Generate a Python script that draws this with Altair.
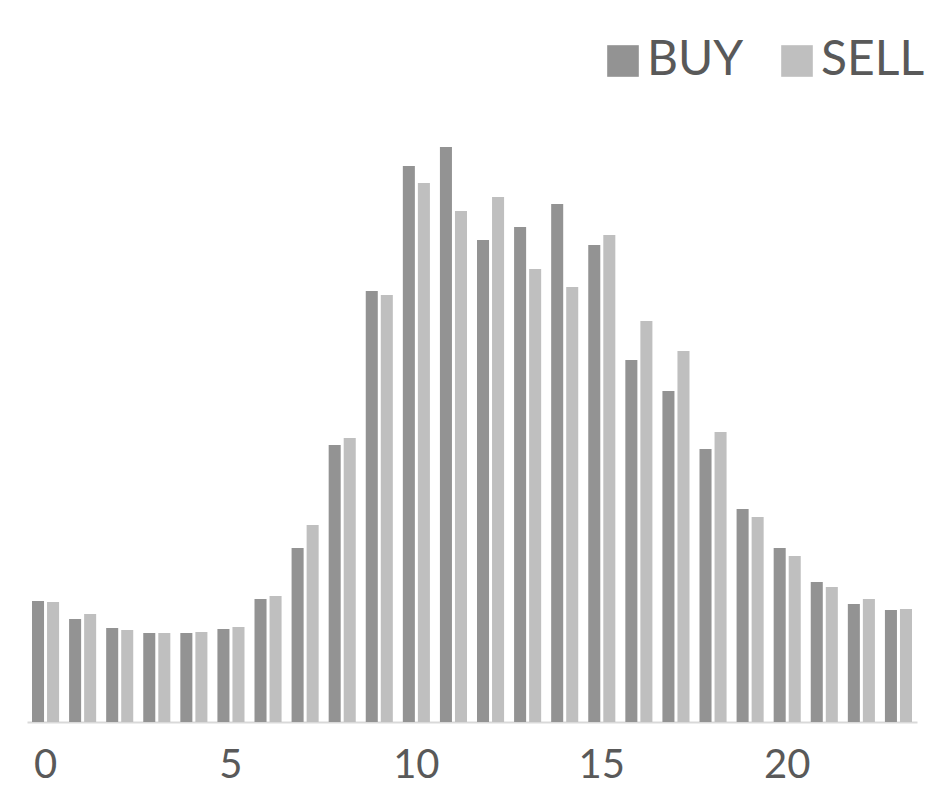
import altair as alt
import pandas as pd

hours = list(range(24))
buy = [121, 103, 94, 89, 89, 93, 123, 174, 277, 431, 556, 575, 482, 495, 518, 477, 362, 331, 273, 213, 174, 140, 118, 112]
sell = [120, 108, 92, 89, 90, 95, 126, 197, 284, 427, 539, 511, 525, 453, 435, 487, 401, 371, 290, 205, 166, 135, 123, 113]
series = ["BUY", "SELL"]
colors = ["#939393", "#bfbfbf"]
tick_labels = [0, 5, 10, 15, 20]

rows = []
for h, b, s in zip(hours, buy, sell):
    rows.append({"hour": h, "side": "BUY", "value": b})
    rows.append({"hour": h, "side": "SELL", "value": s})
df = pd.DataFrame(rows)

FONT = "Lato"

chart = alt.Chart(df).mark_bar().encode(
    x=alt.X("hour:O", sort=hours,
            scale=alt.Scale(paddingInner=0.27, paddingOuter=0.135),
            axis=alt.Axis(values=tick_labels, title=None, labelAngle=0, ticks=False,
                          domainColor="#d9d9d9", domainWidth=2, labelColor="#595959",
                          labelFont=FONT, labelFontSize=40, labelPadding=23, grid=False)),
    xOffset=alt.XOffset("side:N", sort=series,
                        scale=alt.Scale(paddingInner=0.2, paddingOuter=0)),
    y=alt.Y("value:Q", scale=alt.Scale(domain=[0, 600], nice=False), axis=None),
    color=alt.Color("side:N", sort=series,
                    scale=alt.Scale(domain=series, range=colors),
                    legend=alt.Legend(title=None, orient="none", legendX=572, legendY=-85,
                                      direction="horizontal", symbolType="square",
                                      symbolSize=1000, symbolStrokeWidth=0,
                                      labelFont=FONT, labelFontSize=48, labelColor="#595959",
                                      labelOffset=0, columnPadding=29, padding=0)),
).properties(
    width=890, height=600,
    autosize=alt.AutoSizeParams(type="none"),
    padding={"left": 19, "top": 114, "right": 23, "bottom": 78},
).configure_view(stroke=None)

chart.save("out.html", embed_options={"renderer": "svg", "actions": False})
